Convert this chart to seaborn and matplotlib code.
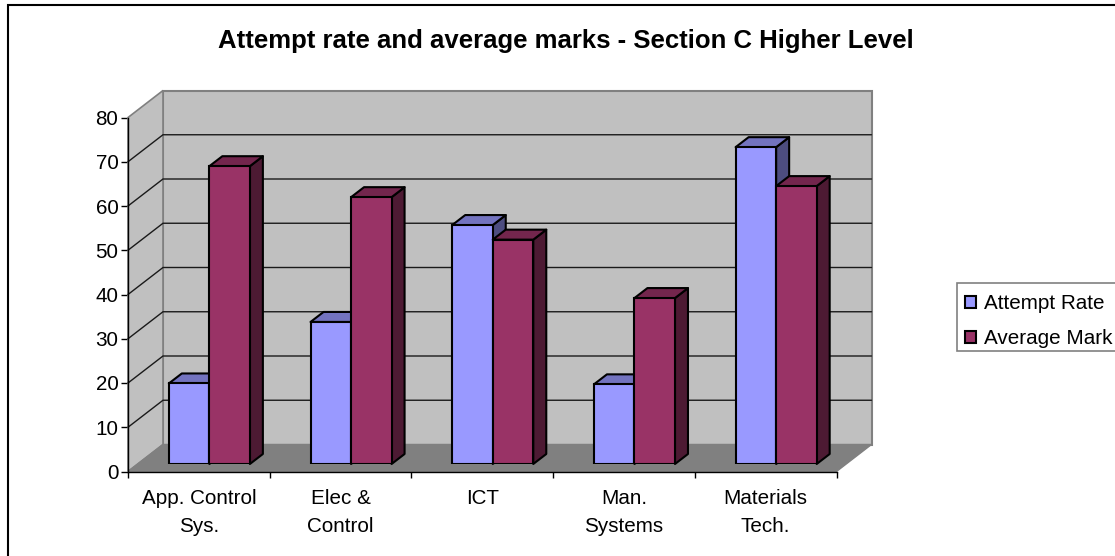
import matplotlib
matplotlib.use("Agg")
import matplotlib.pyplot as plt
import seaborn as sns
import pandas as pd
from matplotlib.lines import Line2D
from matplotlib.patches import Polygon, Rectangle

categories = ["App. Control\nSys.", "Elec &\nControl", "ICT", "Man.\nSystems", "Materials\nTech."]
attempt_rate = [18.2, 32.1, 54.0, 18.0, 71.6]
average_mark = [67.3, 60.3, 50.7, 37.5, 62.8]
series_names = ["Attempt Rate", "Average Mark"]
yticks = list(range(0, 90, 10))

W, H = 1115, 556
FRONT = "#9999FF", "#993366"
TOP = "#7373BF", "#73264D"
SIDE = "#4D4D80", "#4D1A33"
sns.set_theme(style="white")
plt.rcParams["font.family"] = ["Liberation Sans", "DejaVu Sans"]
FS = 14.9

def axes_px(fig, x0, y_bottom, x1, y_top):
    return fig.add_axes([x0 / W, 1 - y_bottom / H, (x1 - x0) / W, (y_bottom - y_top) / H])

fig = plt.figure(figsize=(W / 100, H / 100), dpi=100, facecolor="white")
# chart frame: only its left and top edges fall inside the picture
fig.add_artist(Line2D([8 / W, 8 / W, 1], [0, 1 - 5 / H, 1 - 5 / H], transform=fig.transFigure,
                      color="black", lw=1.5, solid_joinstyle="miter"))

ax = axes_px(fig, 128, 471.5, 836.5, 117.5)
ax.set_xlim(-0.5, 4.5)
ax.set_ylim(0, 80)
ax.patch.set_visible(False)

cat_px = (836.5 - 128) / 5
unit_px = (471.5 - 117.5) / 80
wx, wy = 35 / cat_px, 27 / unit_px
x0, x1 = -0.5, 4.5
ax.add_patch(Polygon([(x0 + wx, wy), (x1 + wx, wy), (x1 + wx, 80 + wy), (x0 + wx, 80 + wy)],
                     closed=True, fc="#C0C0C0", ec="#808080", lw=1.5, clip_on=False, zorder=1))
ax.add_patch(Polygon([(x0, 0), (x0 + wx, wy), (x0 + wx, 80 + wy), (x0, 80)],
                     closed=True, fc="#C0C0C0", ec="#808080", lw=1.2, clip_on=False, zorder=1))
ax.add_patch(Polygon([(x0, 0), (x1, 0), (x1 + wx, wy), (x0 + wx, wy)],
                     closed=True, fc="#808080", ec="#808080", lw=1, clip_on=False, zorder=1))
for t in yticks[1:-1]:
    ax.plot([x0, x0 + wx, x1 + wx], [t, t + wy, t + wy], color="#1A1A1A", lw=1, clip_on=False,
            zorder=1.5, solid_joinstyle="miter")

for s in ("top", "right"):
    ax.spines[s].set_visible(False)
for s in ("left", "bottom"):
    ax.spines[s].set_color("black")
    ax.spines[s].set_linewidth(1)
    ax.spines[s].set_zorder(1.8)
ax.set_yticks(yticks)
ax.set_xticks([x0 + i for i in range(6)])
ax.set_xticklabels([])
ax.set_xticks(range(5), categories, minor=True)
ax.tick_params(axis="y", which="major", length=5, width=1, color="black", left=True, labelsize=FS,
               pad=2, labelcolor="black")
ax.tick_params(axis="x", which="major", length=4.5, width=1, color="black", bottom=True)
ax.tick_params(axis="x", which="minor", length=0, labelsize=FS, pad=12.7, labelcolor="black")
for lab in ax.get_xticklabels(minor=True):
    lab.set_linespacing(1.6)

# bars stand on a plane set part-way into the depth of the floor
bx = axes_px(fig, 128 + 10.5, 464, 836.5 + 10.5, 464 - 80 * unit_px)
bx.patch.set_visible(False)
df = pd.DataFrame({
    "category": categories * 2,
    "series": [series_names[0]] * 5 + [series_names[1]] * 5,
    "value": attempt_rate + average_mark,
})
sns.barplot(data=df, x="category", y="value", hue="series", hue_order=series_names,
            palette=list(FRONT), width=0.572, gap=0, saturation=1, dodge=True,
            edgecolor="black", linewidth=1.5, ax=bx, legend=False)
bx.set_xlim(-0.5, 4.5)
bx.set_ylim(0, 80)
bx.set_axis_off()

dx, dy = 13 / cat_px, 10 / unit_px
for s, container in enumerate(bx.containers):
    for p in container:
        l, b = p.get_x(), p.get_y()
        r, t = l + p.get_width(), b + p.get_height()
        p.set_zorder(3 + 2 * s)
        bx.add_patch(Polygon([(r, b), (r + dx, b + dy), (r + dx, t + dy), (r, t)], closed=True,
                             fc=SIDE[s], ec="black", lw=1.5, zorder=2 + 2 * s, clip_on=False,
                             joinstyle="round"))
        bx.add_patch(Polygon([(l, t), (l + dx, t + dy), (r + dx, t + dy), (r, t)], closed=True,
                             fc=TOP[s], ec="black", lw=1.5, zorder=2 + 2 * s, clip_on=False,
                             joinstyle="round"))

fig.text(566 / W, 1 - 41 / H, "Attempt rate and average marks - Section C Higher Level",
         ha="center", va="center", fontsize=18.5, fontweight="bold", color="black")

# legend box runs past the right edge of the picture
fig.add_artist(Rectangle((957 / W, 1 - 351 / H), 170 / W, 68 / H, transform=fig.transFigure,
                         fc="white", ec="#808080", lw=1.2, zorder=1))
handles = [Rectangle((0, 0), 1, 1, fc=FRONT[i], ec="black", lw=1.5) for i in range(2)]
fig.legend(handles, series_names, loc="upper left", bbox_to_anchor=(957 / W, 1 - 286 / H),
           bbox_transform=fig.transFigure, fontsize=FS, frameon=False, borderpad=0.4,
           labelspacing=0.78, handlelength=0.53, handleheight=0.53, handletextpad=0.36,
           borderaxespad=0, labelcolor="black")

fig.savefig("out.png", dpi=100, facecolor="white")
